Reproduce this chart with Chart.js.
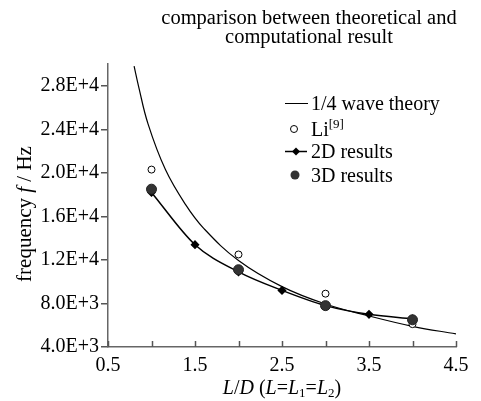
<!DOCTYPE html>
<html>
<head>
<meta charset="utf-8">
<script src="https://cdn.jsdelivr.net/npm/chart.js@4/dist/chart.umd.min.js"></script>
<style>
html, body { margin:0; padding:0; background:#fff; }
</style>
</head>
<body>
<canvas id="myChart" width="481" height="401"></canvas>
<script>
// values
const theoryX = [0.8, 0.85, 0.96, 1.16, 1.39, 1.6, 2.0, 2.5, 3.0, 3.5, 4.0, 4.5],
theoryY = [29800, 28000, 24500, 20300, 17100, 14900, 11950, 9550, 7950, 6850, 5900, 5200],

liX = [1, 2, 3, 4],
liY = [20300, 12500, 8900, 6100],

res2dX = [1, 1.5, 2, 2.5, 3, 3.5, 4],
res2dY = [18200, 13400, 10900, 9200, 7800, 7000, 6600],

res3dX = [1, 2, 3, 4],
res3dY = [18500, 11100, 7800, 6500],

yTicks = [4000, 8000, 12000, 16000, 20000, 24000, 28000],
xLabels = ['0.5', '1.5', '2.5', '3.5', '4.5'];

const serif = '"Liberation Serif", "Times New Roman", serif';
Chart.defaults.font.family = serif;
Chart.defaults.font.size = 20;
Chart.defaults.color = '#000';

const pts = (xs, ys) => xs.map((x, i) => ({x: x, y: ys[i]}));

// draw a run of text pieces (italic / subscript / superscript)
function drawRuns(ctx, runs, x, y, align, base) {
    base = base || 20;
    const font = r => `${r.italic ? 'italic ' : ''}${r.size || base}px ${serif}`;
    let total = 0;
    runs.forEach(r => { ctx.font = font(r); total += ctx.measureText(r.t).width; });
    let cx = align === 'center' ? x - total / 2 : x;
    runs.forEach(r => {
        ctx.font = font(r);
        ctx.fillText(r.t, cx, y + (r.dy || 0));
        cx += ctx.measureText(r.t).width;
    });
}

const decorations = {
    id: 'decorations',
    afterDraw(chart) {
        const ctx = chart.ctx, area = chart.chartArea, xs = chart.scales.x;
        ctx.save();
        ctx.fillStyle = '#000';
        ctx.textBaseline = 'alphabetic';

        // inward ticks on the x axis
        ctx.strokeStyle = '#555';
        ctx.lineWidth = 1.5;
        xs.ticks.forEach(t => {
            const px = Math.round(xs.getPixelForValue(t.value)) + 0.5;
            ctx.beginPath();
            ctx.moveTo(px, area.bottom);
            ctx.lineTo(px, area.bottom - 6);
            ctx.stroke();
        });

        // title
        ctx.font = `20.5px ${serif}`;
        ctx.textAlign = 'center';
        ctx.fillText('comparison between theoretical and', 309, 24);
        ctx.fillText('computational result', 309, 43);
        ctx.textAlign = 'left';

        // x axis title
        drawRuns(ctx, [
            {t: 'L', italic: true}, {t: '/'}, {t: 'D', italic: true}, {t: ' ('},
            {t: 'L', italic: true}, {t: '='}, {t: 'L', italic: true}, {t: '1', size: 13, dy: 3},
            {t: '='}, {t: 'L', italic: true}, {t: '2', size: 13, dy: 3}, {t: ')'}
        ], (area.left + area.right) / 2, 394, 'center');

        // y axis title
        ctx.save();
        ctx.translate(31, 214);
        ctx.rotate(-Math.PI / 2);
        drawRuns(ctx, [{t: 'frequency '}, {t: 'f', italic: true}, {t: ' / '}, {t: 'Hz'}], 0, 0, 'center', 21);
        ctx.restore();

        // legend
        const lx = 285, tx = 311;
        ctx.strokeStyle = '#000';
        ctx.lineWidth = 1;
        ctx.beginPath(); ctx.moveTo(lx, 103.5); ctx.lineTo(lx + 23, 103.5); ctx.stroke();
        drawRuns(ctx, [{t: '1/4 wave theory'}], tx, 110);

        ctx.fillStyle = '#fff';
        ctx.beginPath(); ctx.arc(294, 129, 3.5, 0, Math.PI * 2); ctx.fill(); ctx.stroke();
        ctx.fillStyle = '#000';
        drawRuns(ctx, [{t: 'Li'}, {t: '[9]', size: 13, dy: -8}], tx, 136);

        ctx.lineWidth = 1.5;
        ctx.beginPath(); ctx.moveTo(lx, 151.5); ctx.lineTo(lx + 22, 151.5); ctx.stroke();
        ctx.beginPath();
        ctx.moveTo(296, 147.5); ctx.lineTo(300, 151.5); ctx.lineTo(296, 155.5); ctx.lineTo(292, 151.5);
        ctx.closePath(); ctx.fill();
        drawRuns(ctx, [{t: '2D results'}], tx, 158);

        ctx.fillStyle = '#333';
        ctx.beginPath(); ctx.arc(295, 175, 4.5, 0, Math.PI * 2); ctx.fill();
        ctx.fillStyle = '#000';
        drawRuns(ctx, [{t: '3D results'}], tx, 182);

        ctx.restore();
    }
};

const chartData = {
    datasets: [
        {
            label: '3D results',
            data: pts(res3dX, res3dY),
            showLine: false,
            pointStyle: 'circle',
            pointRadius: 5,
            pointBackgroundColor: '#333',
            pointBorderColor: '#222',
            pointBorderWidth: 1,
            order: 0
        },
        {
            label: '2D results',
            data: pts(res2dX, res2dY),
            borderColor: '#000',
            borderWidth: 1.5,
            cubicInterpolationMode: 'monotone',
            pointStyle: 'rectRot',
            pointRadius: 3.5,
            pointBackgroundColor: '#000',
            pointBorderColor: '#000',
            order: 1
        },
        {
            label: 'Li[9]',
            data: pts(liX, liY),
            showLine: false,
            pointStyle: 'circle',
            pointRadius: 3.5,
            pointBackgroundColor: '#fff',
            pointBorderColor: '#000',
            pointBorderWidth: 1,
            order: 2
        },
        {
            label: '1/4 wave theory',
            data: pts(theoryX, theoryY),
            borderColor: '#000',
            borderWidth: 1.2,
            tension: 0.4,
            pointRadius: 0,
            order: 3
        }
    ]
},

options = {
    responsive: false,
    animation: false,
    layout: { padding: { top: 64, right: 25, left: 0, bottom: 0 } },
    plugins: {
        legend: { display: false },
        title: { display: false },
        tooltip: { enabled: false }
    },
    scales: {
        x: {
            type: 'linear',
            min: 0.5,
            max: 4.5,
            afterFit: s => { s.height = 54; },
            afterBuildTicks: s => {
                s.ticks = [];
                for (let v = 0.5; v <= 4.5; v += 0.5) s.ticks.push({value: v});
            },
            ticks: {
                autoSkip: false,
                maxRotation: 0,
                padding: 7,
                callback: v => xLabels.includes(v.toFixed(1)) ? v.toFixed(1) : ''
            },
            grid: { drawOnChartArea: false, drawTicks: false },
            border: { color: '#666', width: 1.5 }
        },
        y: {
            min: 4000,
            max: 30000,
            afterFit: s => { s.width = 108; },
            afterBuildTicks: s => { s.ticks = yTicks.map(v => ({value: v})); },
            ticks: {
                padding: 2,
                callback: v => v.toExponential(1).toUpperCase()
            },
            grid: { drawOnChartArea: false, tickLength: 7, color: '#555', lineWidth: 1.5 },
            border: { color: '#666', width: 1.5 }
        }
    }
};

const ctx = document.getElementById('myChart').getContext('2d');
const myChart = new Chart(ctx, {
    type: 'line',
    data: chartData,
    options: options,
    plugins: [decorations]
});
</script>
</body>
</html>
